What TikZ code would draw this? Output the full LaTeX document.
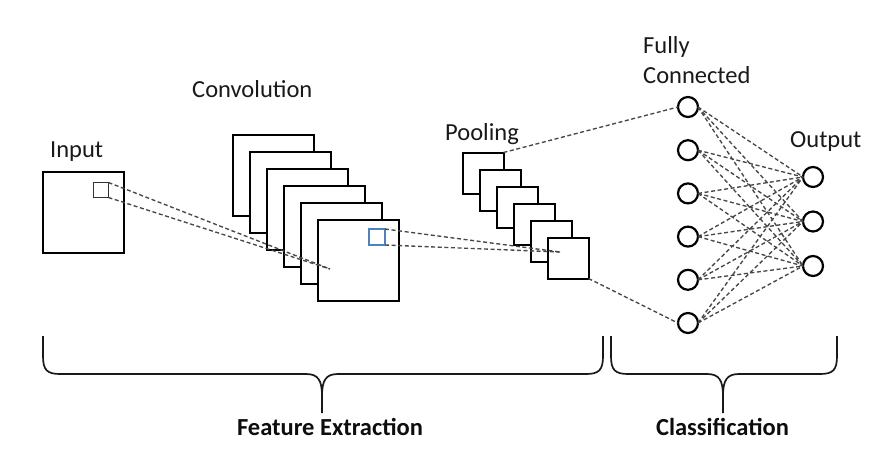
\documentclass[tikz,border=0pt]{standalone}
\usepackage{fontspec}
\setmainfont{Carlito}
\begin{document}
\begin{tikzpicture}[x=1pt,y=-1pt]
\tikzset{
  lbl/.style={inner sep=0pt, font=\fontsize{24.5}{29}\selectfont, text=black!90},
  blbl/.style={inner sep=0pt, font=\fontsize{24.5}{29}\selectfont\bfseries, text=black!95},
  fmap/.style={draw=black, line width=2pt, fill=white, minimum size=81pt, inner sep=0pt, outer sep=0pt},
  pmap/.style={fmap, minimum size=41pt},
  patch/.style={draw=black!80, line width=1.3pt, minimum size=15pt, inner sep=0pt, outer sep=0pt},
  neuron/.style={circle, draw=black, line width=2.2pt, minimum size=20pt, inner sep=0pt, outer sep=0pt, fill=white},
  link/.style={draw=black!72, line width=1.35pt, dash pattern=on 4pt off 2.6pt},
  brace/.style={draw=black!90, line width=1.7pt, line join=round}
}
\definecolor{patchblue}{HTML}{4F81BD}
\useasboundingbox (0,0) rectangle (873,467);

% Input
\node[lbl, anchor=base west] (inlbl) at (50,157) {Input};
\node[fmap] (in) at (83,212) {};
\node[patch] (inp) at (101,190) {};

% Convolution
\node[lbl, anchor=base west] (convlbl) at (192,97) {Convolution};
\foreach \i in {0,...,5}
  \node[fmap] (c\i) at ({273+17*\i},{175+17*\i}) {};
\node[patch, draw=patchblue, minimum size=16pt] (cp) at (377,237) {};

% Pooling
\node[lbl, anchor=base west] (poollbl) at (445,140) {Pooling};
\foreach \i in {0,...,5}
  \node[pmap] (p\i) at ({483+17*\i},{173+17*\i}) {};

% Fully connected
\node[lbl, anchor=base west] (fclbl1) at (643,53) {Fully};
\node[lbl, anchor=base west] (fclbl2) at (643,83) {Connected};
\foreach \i in {1,...,6}
  \node[neuron] (f\i) at (688,{107+43.2*(\i-1)}) {};

% Output
\node[lbl, anchor=base west] (outlbl) at (790,147) {Output};
\node[neuron] (o1) at (813,177) {};
\node[neuron] (o2) at (813,221.5) {};
\node[neuron] (o3) at (813,266) {};

% focus points
\coordinate (cf) at (330,269);
\coordinate (pf) at (560,252);

% connectors
\draw[link] (inp.north east) -- (cf);
\draw[link] (inp.south east) -- (cf);
\draw[link] (cp.north east) -- (pf);
\draw[link] (cp.south east) -- (pf);
\draw[link] (p0.north east) -- (f1.west);
\draw[link] (p5.south east) -- (f6.west);
\foreach \i in {1,...,6}
  \foreach \j in {1,2,3}
    \draw[link] (f\i.east) -- (o\j.west);

% braces
\draw[brace] (43,336) -- (43,356) .. controls (43,370) and (47,374) .. (60,374) -- (306,374)
  .. controls (318,374) and (322,380) .. (322,396) -- (322,413);
\draw[brace] (322,396) .. controls (322,380) and (326,374) .. (338,374) -- (586,374)
  .. controls (599,374) and (603,370) .. (603,356) -- (603,336);
\draw[brace] (611,336) -- (611,356) .. controls (611,370) and (615,374) .. (628,374) -- (707,374)
  .. controls (719,374) and (723,380) .. (723,396) -- (723,413);
\draw[brace] (723,396) .. controls (723,380) and (727,374) .. (739,374) -- (820,374)
  .. controls (833,374) and (837,370) .. (837,356) -- (837,336);

\node[blbl, anchor=base] (fe) at (330,435) {Feature Extraction};
\node[blbl, anchor=base] (cl) at (722.5,435) {Classification};
\end{tikzpicture}
\end{document}
